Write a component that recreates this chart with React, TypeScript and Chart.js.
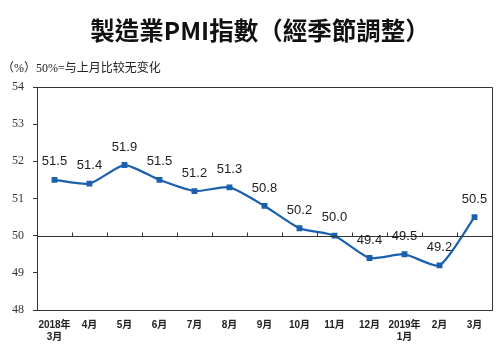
import React, { useEffect, useRef } from "react";
import { Chart, registerables } from "chart.js";

Chart.register(...registerables);

const TITLE = "製造業PMI指數（經季節調整）";
const SUBTITLE = "（%）50%=与上月比较无变化";
const categories: (string | string[])[] = [
  ["2018年", "3月"], "4月", "5月", "6月", "7月", "8月", "9月", "10月", "11月", "12月", ["2019年", "1月"], "2月", "3月",
];
const pmiValues = [51.5, 51.4, 51.9, 51.5, 51.2, 51.3, 50.8, 50.2, 50.0, 49.4, 49.5, 49.2, 50.5];
const yMin = 48;
const yMax = 54;
const baseline = 50;

const decorPlugin = {
  id: "decor",
  afterDraw(chart: any) {
    const { ctx, chartArea, scales } = chart;
    const x = scales.x;
    const y = scales.y;
    ctx.save();
    // frame top/right
    ctx.strokeStyle = "#333";
    ctx.lineWidth = 1;
    ctx.beginPath();
    ctx.moveTo(chartArea.left, chartArea.top + 0.5);
    ctx.lineTo(chartArea.right + 0.5, chartArea.top + 0.5);
    ctx.lineTo(chartArea.right + 0.5, chartArea.bottom);
    ctx.stroke();
    // baseline at 50 with ticks at category boundaries
    const yb = Math.round(y.getPixelForValue(baseline)) + 0.5;
    ctx.beginPath();
    ctx.moveTo(chartArea.left, yb);
    ctx.lineTo(chartArea.right, yb);
    for (let i = 1; i < categories.length; i++) {
      const px = Math.round((x.getPixelForValue(i - 1) + x.getPixelForValue(i)) / 2) + 0.5;
      ctx.moveTo(px, yb);
      ctx.lineTo(px, yb - 4);
    }
    ctx.stroke();
    // data labels
    const meta = chart.getDatasetMeta(0);
    ctx.fillStyle = "#222";
    ctx.font = '13px "Liberation Sans", Arial, sans-serif';
    ctx.textAlign = "center";
    ctx.textBaseline = "middle";
    meta.data.forEach((pt: any, i: number) => {
      ctx.fillText(pmiValues[i].toFixed(1), pt.x, pt.y - 18);
    });
    // title & subtitle
    ctx.fillStyle = "#111";
    ctx.font = 'bold 24.5px "Noto Sans CJK TC", sans-serif';
    ctx.textAlign = "center";
    ctx.fillText(TITLE, 260, 31);
    ctx.fillStyle = "#222";
    ctx.font = '12px "Liberation Serif", "Noto Sans CJK SC", serif';
    ctx.textAlign = "left";
    ctx.fillText(SUBTITLE, 2, 69);
    ctx.restore();
  },
};

export default function App() {
  const ref = useRef<HTMLCanvasElement>(null);
  useEffect(() => {
    document.body.style.margin = "0";
    const chart = new Chart(ref.current as HTMLCanvasElement, {
      type: "line",
      data: {
        labels: categories,
        datasets: [
          {
            data: pmiValues,
            borderColor: "#1b60ae",
            backgroundColor: "#1b60ae",
            borderWidth: 2.2,
            tension: 0.2,
            pointStyle: "rect",
            pointRadius: 2.6,
            pointHoverRadius: 2.6,
          },
        ],
      },
      options: {
        animation: false,
        responsive: false,
        layout: { padding: { top: 87, right: 6, left: 0, bottom: 0 } },
        plugins: { legend: { display: false }, title: { display: false }, tooltip: { enabled: false } },
        scales: {
          x: {
            offset: true,
            grid: { display: false, drawTicks: false },
            border: { display: true, color: "#333", width: 1 },
            ticks: {
              color: "#222",
              font: { family: '"Liberation Sans", "Noto Sans CJK SC", sans-serif', size: 10, weight: "bold" },
              padding: 9,
              maxRotation: 0,
              autoSkip: false,
            },
            afterFit(scale: any) {
              scale.height = 45;
            },
          },
          y: {
            min: yMin,
            max: yMax,
            grid: { drawOnChartArea: false, tickLength: 4, color: "#333" },
            border: { display: true, color: "#333", width: 1 },
            ticks: {
              stepSize: 1,
              color: "#333",
              padding: 9,
              font: { family: '"Liberation Serif", "Times New Roman", serif', size: 12 },
            },
            afterFit(scale: any) {
              scale.width = 37;
            },
          },
        },
      },
      plugins: [decorPlugin],
    });
    return () => chart.destroy();
  }, []);
  return (
    <div style={{ width: 498, height: 355 }}>
      <canvas ref={ref} width={498} height={355} />
    </div>
  );
}
